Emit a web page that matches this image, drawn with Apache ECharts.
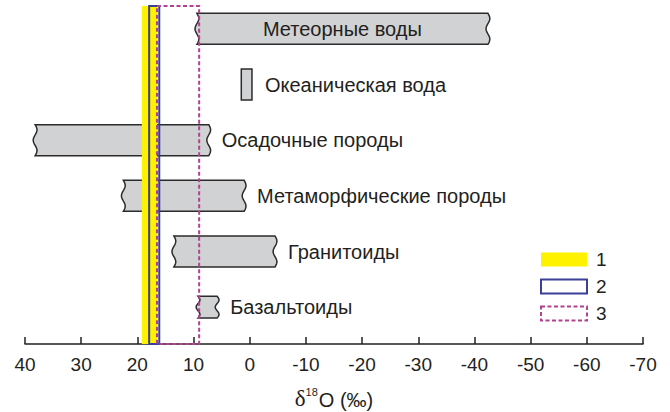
<!DOCTYPE html>
<html><head><meta charset="utf-8">
<script src="https://cdn.jsdelivr.net/npm/echarts@6/dist/echarts.min.js"></script>
<style>html,body{margin:0;padding:0;background:#fff}#c{width:670px;height:412px}</style>
</head><body><div id="c"></div>
<script>
// ---- data ----
const categories = ['Метеорные воды', 'Океаническая вода', 'Осадочные породы', 'Метаморфические породы', 'Гранитоиды', 'Базальтоиды'];
const rangeHigh = [9.4, 1.5, 38.2, 22.5, 13.5, 9.2];
const rangeLow = [-42.4, -0.4, 7.3, 1.0, -4.5, 5.8];
const bandNames = ['1', '2', '3'];
const bandHigh = [19.2, 17.9, 16.5];
const bandLow = [16.5, 16.1, 9.0];
const xMin = -70, xMax = 40, xStep = 10;
const axisTitle = ['δ', '18', 'O (‰)'];

// ---- styling (not data) ----
const TEXT = '#231f20';
const FONT = '"Liberation Sans", Arial, sans-serif';
const straightEnds = { 'Океаническая вода': true };
const labelInside = { 'Метеорные воды': true };
const thinBars = { 'Базальтоиды': 0.39 };
const bandStyles = [
  { fill: '#fff200', stroke: null, lineWidth: 0 },
  { fill: 'none', stroke: '#3b3f98', lineWidth: 2 },
  { fill: 'none', stroke: '#b2418f', lineWidth: 2, lineDash: [4, 2.5] }
];

const chart = echarts.init(document.getElementById('c'), null, { renderer: 'svg' });

function renderBar(params, api) {
  const i = api.value(1);
  const name = categories[i];
  const a = api.coord([api.value(0), i]);
  const b = api.coord([api.value(2), i]);
  const band = api.size([0, 1])[1];
  const h = band * (thinBars[name] || 0.557);
  const x1 = Math.min(a[0], b[0]), x2 = Math.max(a[0], b[0]);
  const yTop = a[1] - h / 2;
  const pts = [];
  const N = 24, A = straightEnds[name] ? 0 : 1.9;
  for (let k = 0; k <= N; k++) {
    const t = k / N;
    pts.push([x2 + A * Math.sin(t * Math.PI * 3), yTop + t * h]);
  }
  for (let k = N; k >= 0; k--) {
    const t = k / N;
    pts.push([x1 + A * Math.sin(t * Math.PI * 3), yTop + t * h]);
  }
  const inside = !!labelInside[name];
  return {
    type: 'group',
    children: [
      { type: 'polygon', shape: { points: pts },
        style: { fill: '#d1d2d4', stroke: '#2b2b2b', lineWidth: 1.5 } },
      { type: 'text',
        style: { text: name, x: inside ? (x1 + x2) / 2 : x2 + 13, y: a[1],
          fill: TEXT, fontSize: 20, fontFamily: FONT,
          align: inside ? 'center' : 'left', verticalAlign: 'middle' } }
    ]
  };
}

function bandRenderer(idx) {
  return function (params, api) {
    const a = api.coord([api.value(0), 0]);
    const b = api.coord([api.value(1), 0]);
    const cs = params.coordSys;
    const x1 = Math.min(a[0], b[0]), x2 = Math.max(a[0], b[0]);
    const y1 = cs.y + 5, y2 = cs.y + cs.height + 9;
    const s = bandStyles[idx];
    return {
      type: 'rect',
      shape: { x: x1, y: y1, width: x2 - x1, height: y2 - y1 },
      style: { fill: s.fill, stroke: s.stroke, lineWidth: s.lineWidth, lineDash: s.lineDash || null }
    };
  };
}

const barData = categories.map((c, i) => [rangeHigh[i], i, rangeLow[i]]);

const series = [{
  type: 'custom', name: 'bars', renderItem: renderBar, data: barData,
  encode: { x: [0, 2], y: 1 }, clip: false, z: 2, silent: true
}];
bandNames.forEach((n, i) => {
  const s = bandStyles[i];
  series.push({
    type: 'custom', name: n, renderItem: bandRenderer(i),
    data: [[bandHigh[i], bandLow[i]]], encode: { x: [0, 1] }, clip: false, z: 3 + i, silent: true,
    itemStyle: s.fill !== 'none' ? { color: s.fill } : { color: '#fff', borderColor: s.stroke, borderWidth: s.lineWidth }
  });
});

chart.setOption({
  animation: false,
  backgroundColor: '#fff',
  grid: { left: 25, right: 27, top: 1, bottom: 77, outerBoundsMode: 'none', containLabel: false },
  xAxis: {
    type: 'value', inverse: true, min: xMin, max: xMax, interval: xStep,
    offset: 9,
    axisLine: { show: true, lineStyle: { color: TEXT, width: 1.5 } },
    axisTick: { show: true, inside: true, length: 7, lineStyle: { color: TEXT, width: 1.5 } },
    splitLine: { show: false },
    axisLabel: { color: TEXT, fontSize: 19, fontFamily: FONT, margin: 11 },
    name: '{d|' + axisTitle[0] + '}{s|' + axisTitle[1] + '}{o|' + axisTitle[2] + '}',
    nameLocation: 'middle', nameGap: 42,
    nameTextStyle: {
      rich: {
        d: { fontSize: 23, fontFamily: '"Liberation Serif", serif', color: TEXT, lineHeight: 24, verticalAlign: 'bottom' },
        s: { fontSize: 11, fontFamily: FONT, color: TEXT, lineHeight: 24, verticalAlign: 'top', padding: [0, 1, 0, 0] },
        o: { fontSize: 20, fontFamily: FONT, color: TEXT, lineHeight: 24, verticalAlign: 'bottom' }
      }
    }
  },
  yAxis: {
    type: 'category', data: categories, inverse: true, show: false
  },
  legend: {
    orient: 'vertical', left: 540, top: 250, padding: 0, itemWidth: 46, itemHeight: 14, itemGap: 8,
    selectedMode: false,
    textStyle: { color: TEXT, fontSize: 19, fontFamily: FONT, padding: [0, 0, 0, 4] },
    data: [
      { name: '1', icon: 'rect', itemStyle: { color: '#fff200', borderWidth: 0 } },
      { name: '2', icon: 'rect', itemStyle: { color: '#fff', borderColor: '#3b3f98', borderWidth: 2 } },
      { name: '3', icon: 'rect', itemStyle: { color: '#fff', borderColor: '#b2418f', borderWidth: 2, borderType: [4, 2.5] } }
    ]
  },
  series: series
});
</script>
</body></html>
